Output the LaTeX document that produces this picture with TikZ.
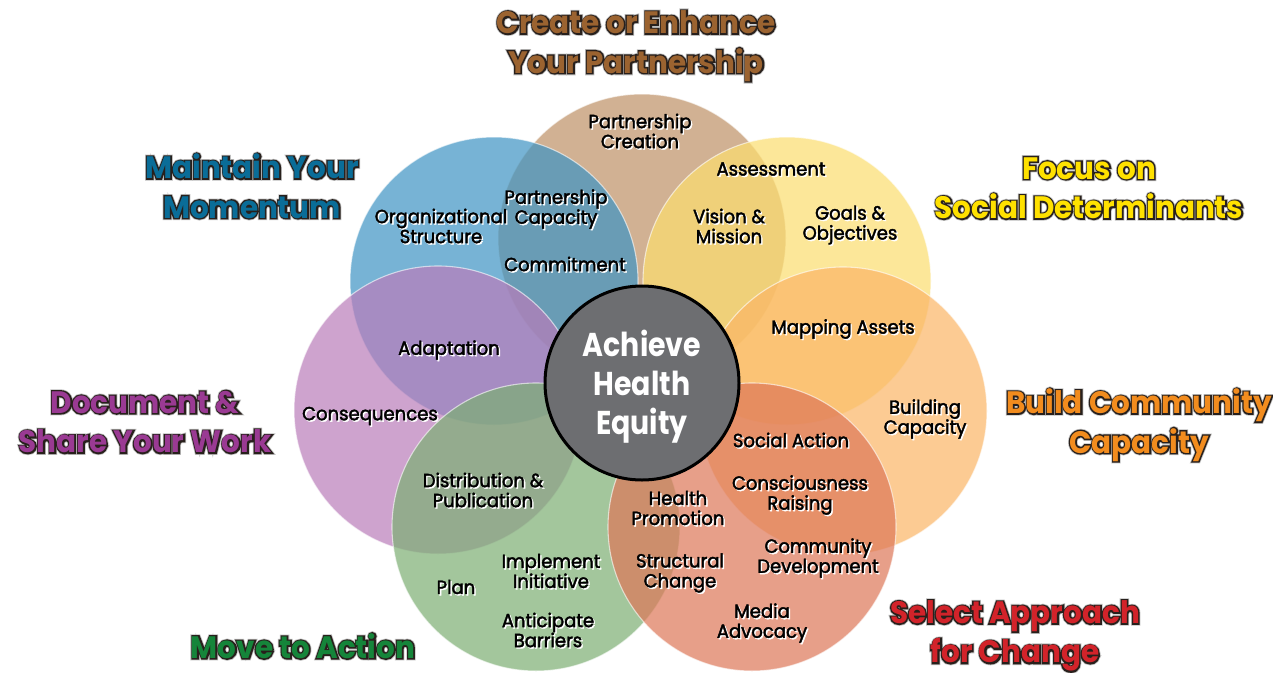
\documentclass[tikz,border=0pt]{standalone}
\usepackage{fontspec}
\setmainfont{Poppins}
\newfontfamily\lblfont[FakeStretch=0.95,FakeBold=2]{Poppins}
\newfontfamily\ctrfont[FakeStretch=0.86]{Poppins}
\newfontfamily\ttlfont[FakeStretch=0.95]{Poppins}
\newfontfamily\ttlout[FakeStretch=0.95,FakeBold=9]{Poppins}
\newfontfamily\ttlhalo[FakeStretch=0.95,FakeBold=14]{Poppins}
\definecolor{brownC}{RGB}{190,145,102}
\definecolor{blueC}{RGB}{62,148,196}
\definecolor{yellowC}{RGB}{252,222,111}
\definecolor{orangeC}{RGB}{251,181,102}
\definecolor{redC}{RGB}{222,119,88}
\definecolor{greenC}{RGB}{124,175,115}
\definecolor{purpleC}{RGB}{186,124,186}
\definecolor{brownT}{RGB}{155,99,48}
\definecolor{blueT}{RGB}{10,109,152}
\definecolor{yellowT}{RGB}{255,225,0}
\definecolor{orangeT}{RGB}{242,140,30}
\definecolor{purpleT}{RGB}{154,58,147}
\definecolor{redT}{RGB}{210,35,42}
\definecolor{greenT}{RGB}{21,133,58}
\definecolor{centerC}{RGB}{109,110,113}
\definecolor{outl}{RGB}{40,32,28}
\definecolor{halo}{RGB}{190,190,190}
\tikzset{
  petal/.style={fill=#1, fill opacity=0.7, draw=white, draw opacity=0.6, line width=1.1pt},
  lbl/.style={font=\lblfont\fontsize{19}{20}\selectfont, align=center, inner sep=0pt},
  ttl/.style={font=\ttlfont\bfseries\fontsize{31}{39.5}\selectfont, align=center, inner sep=0pt},
  ttlo/.style={font=\ttlout\bfseries\fontsize{31}{39.5}\selectfont, align=center, inner sep=0pt, text=outl},
  ttlh/.style={font=\ttlhalo\bfseries\fontsize{31}{39.5}\selectfont, align=center, inner sep=0pt, text=halo},
  ctr/.style={font=\ctrfont\bfseries\fontsize{33}{39}\selectfont, align=center, inner sep=0pt, text=white}
}
\newcommand{\ttlnode}[4]{%
  \node[ttlh] at (#2) {#4};
  \node[ttlo] at (#2) {#4};
  \node[ttl, text=#3] (#1) at (#2) {#4};
}
\newcommand{\lblnode}[3]{%
  \node[lbl, text=white] at ([shift={(1.4,1.4)}]#2) {#3};
  \node[lbl, text=black] (#1) at (#2) {#3};
}
\begin{document}
\begin{tikzpicture}[x=1pt,y=-1pt]
\useasboundingbox (0,0) rectangle (1273,672);
\fill[white] (0,0) rectangle (1273,672);
% petals
\path[petal=brownC]  (642,238) circle[radius=144pt];
\path[petal=blueC]   (494,281) circle[radius=144pt];
\path[petal=yellowC] (787,281) circle[radius=144pt];
\path[petal=orangeC] (843,411) circle[radius=144pt];
\path[petal=purpleC] (438,410) circle[radius=144pt];
\path[petal=greenC]  (536,527) circle[radius=144pt];
\path[petal=redC]    (752,527) circle[radius=144pt];
% center
\node[circle, minimum size=194pt, inner sep=0pt, fill=centerC, draw=black, line width=3pt] (hub) at (642,383) {};
\node[ctr] (hubtext) at (642,387) {Achieve\\Health\\Equity};
% inner labels
\lblnode{pcre}{640,131}{Partnership\\Creation}
\lblnode{asse}{771,169}{Assessment}
\lblnode{visi}{729,226}{Vision \&\\Mission}
\lblnode{goal}{850,225}{Goals \&\\Objectives}
\lblnode{orgs}{441,226}{Organizational\\Structure}
\lblnode{pcap}{556,209}{Partnership\\Capacity}
\lblnode{comm}{565,264}{Commitment}
\lblnode{mapp}{843,329}{Mapping Assets}
\lblnode{adap}{449,350}{Adaptation}
\lblnode{cons}{370,416}{Consequences}
\lblnode{buil}{925,419}{Building\\Capacity}
\lblnode{soci}{791,440}{Social Action}
\lblnode{cras}{800,495}{Consciousness\\Raising}
\lblnode{hpro}{678,508}{Health\\Promotion}
\lblnode{dist}{483,490}{Distribution \&\\Publication}
\lblnode{cdev}{818,558}{Community\\Development}
\lblnode{stru}{680,573}{Structural\\Change}
\lblnode{impl}{551,571}{Implement\\Initiative}
\lblnode{plan}{456,587}{Plan}
\lblnode{anti}{548,630}{Anticipate\\Barriers}
\lblnode{medi}{762,623}{Media\\Advocacy}
% titles
\ttlnode{tcreate}{636,46}{brownT}{Create or Enhance\\Your Partnership}
\ttlnode{tmaint}{252,186}{blueT}{Maintain Your\\Momentum}
\ttlnode{tfocus}{1089,188}{yellowT}{Focus on\\Social Determinants}
\ttlnode{tbuild}{1139,425}{orangeT}{Build Community\\Capacity}
\ttlnode{tdoc}{145,422}{purpleT}{Document \&\\Share Your Work}
\ttlnode{tsel}{1015,636}{redT}{Select Approach\\for Change}
\ttlnode{tmove}{303,646}{greenT}{Move to Action}
\end{tikzpicture}
\end{document}
